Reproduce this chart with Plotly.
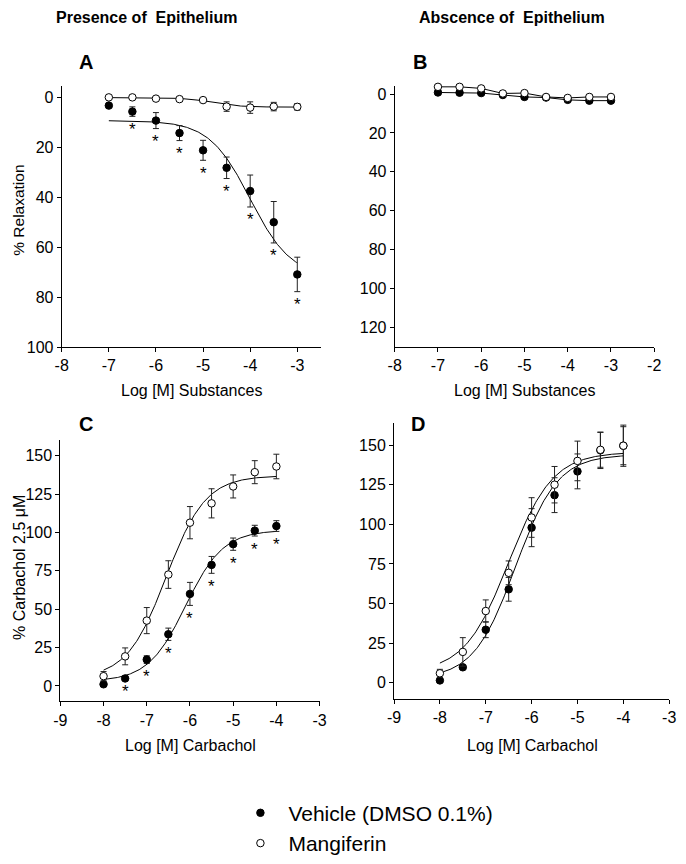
import numpy as np
import plotly.graph_objects as go

# concentrations (log M)
conc_sub = [-7, -6.5, -6, -5.5, -5, -4.5, -4, -3.5, -3]
conc_cch = [-8, -7.5, -7, -6.5, -6, -5.5, -5, -4.5, -4]

# A - presence of epithelium, relaxation
a_vehicle = [3.3, 5.7, 9.3, 14.3, 21.2, 28.2, 37.5, 50.0, 70.9]
a_vehicle_err = [0, 1.9, 3.2, 3.0, 4.0, 4.3, 6.4, 8.3, 6.9]
a_vehicle_sig = [0, 1, 1, 1, 1, 1, 1, 1, 1]
a_mangiferin = [0.0, 0.0, 0.5, 0.7, 1.1, 3.7, 4.1, 3.7, 3.8]
a_mangiferin_err = [0, 0, 0, 0, 0, 1.9, 2.3, 1.7, 1.3]

# B - absence of epithelium, relaxation
b_vehicle = [-0.8, -0.7, -0.5, 0.5, 1.5, 1.8, 3.0, 3.4, 3.4]
b_mangiferin = [-3.7, -3.7, -2.9, -0.3, -0.5, 1.5, 2.0, 1.5, 1.5]

# C - presence of epithelium, carbachol
c_vehicle = [1.1, 4.9, 17.2, 33.7, 60.0, 78.9, 92.4, 101.2, 104.2]
c_vehicle_err = [0, 0, 2.5, 4.0, 7.5, 5.5, 4.0, 3.5, 3.5]
c_vehicle_sig = [0, 1, 1, 1, 1, 1, 1, 1, 1]
c_mangiferin = [6.4, 19.3, 42.6, 72.6, 106.4, 119.0, 130.0, 139.3, 143.0]
c_mangiferin_err = [3.0, 5.5, 8.5, 9.0, 10.5, 9.5, 7.5, 7.5, 8.0]

# D - absence of epithelium, carbachol
d_vehicle = [1.5, 9.8, 33.5, 59.0, 97.9, 118.4, 133.4, 146.7, 149.6]
d_vehicle_err = [0, 0, 5.0, 7.5, 12.0, 11.0, 11.0, 11.5, 12.0]
d_mangiferin = [6.0, 19.5, 45.3, 69.4, 104.3, 125.0, 140.0, 147.0, 149.6]
d_mangiferin_err = [2.5, 9.0, 7.0, 7.5, 12.5, 11.5, 12.5, 11.0, 13.0]

# fitted sigmoid parameters (bottom, top, logEC50, hill)
fit_a_vehicle = (9.3, 72.0, -4.0, 1.0)
fit_a_mangiferin = (0.1, 3.9, -4.8, 1.5)
fit_c_vehicle = (3.0, 101.5, -6.1, 1.0)
fit_c_mangiferin = (5.0, 137.0, -6.55, 0.95)
fit_d_vehicle = (2.5, 144.0, -6.35, 0.95)
fit_d_mangiferin = (6.5, 145.5, -6.5, 0.9)

FONT = "Liberation Sans, Arial, sans-serif"

# the page body adds 8px around the figure, so work in page pixels minus that
OFF = 8
W, H = 686 - OFF, 864 - OFF


def sigmoid(x, p):
    bottom, top, ec50, hill = p
    return bottom + (top - bottom) / (1 + 10 ** ((ec50 - x) * hill))


fig = go.Figure()


def add_points(x, y, err, filled, xa, ya, name=None, legend=False, line=False):
    fig.add_trace(go.Scatter(
        x=x, y=y,
        mode="lines+markers" if line else "markers",
        line=dict(color="black", width=1),
        marker=dict(size=7.5, color="black" if filled else "white",
                    line=dict(color="black", width=1)),
        error_y=dict(type="data", array=err, color="#222222", thickness=1, width=3,
                     visible=err is not None),
        xaxis=xa, yaxis=ya, name=name, showlegend=legend, cliponaxis=False,
    ))


def add_curve(x0, x1, p, xa, ya):
    xs = np.linspace(x0, x1, 200)
    fig.add_trace(go.Scatter(x=xs, y=sigmoid(xs, p), mode="lines",
                             line=dict(color="black", width=1),
                             xaxis=xa, yaxis=ya, showlegend=False, hoverinfo="skip"))


def add_stars(x, y, err, sig, xa, ya, down):
    for xi, yi, ei, si in zip(x, y, err, sig):
        if si:
            fig.add_annotation(x=xi, y=yi + ei if down else yi - ei, xref=xa, yref=ya,
                               text="*", showarrow=False, yanchor="middle", yshift=-13,
                               font=dict(family=FONT, size=17, color="black"))


# A
add_curve(-7, -3, fit_a_vehicle, "x", "y")
add_curve(-7, -3, fit_a_mangiferin, "x", "y")
add_points(conc_sub, a_vehicle, a_vehicle_err, True, "x", "y", "Vehicle (DMSO 0.1%)", True)
add_points(conc_sub, a_mangiferin, a_mangiferin_err, False, "x", "y", "Mangiferin", True)
add_stars(conc_sub, a_vehicle, a_vehicle_err, a_vehicle_sig, "x", "y", True)

# B
add_points(conc_sub, b_vehicle, None, True, "x2", "y2", line=True)
add_points(conc_sub, b_mangiferin, None, False, "x2", "y2", line=True)

# C
add_curve(-8, -4, fit_c_vehicle, "x3", "y3")
add_curve(-8, -4, fit_c_mangiferin, "x3", "y3")
add_points(conc_cch, c_vehicle, c_vehicle_err, True, "x3", "y3")
add_points(conc_cch, c_mangiferin, c_mangiferin_err, False, "x3", "y3")
add_stars(conc_cch, c_vehicle, c_vehicle_err, c_vehicle_sig, "x3", "y3", False)

# D
add_curve(-8, -4, fit_d_vehicle, "x4", "y4")
add_curve(-8, -4, fit_d_mangiferin, "x4", "y4")
add_points(conc_cch, d_vehicle, d_vehicle_err, True, "x4", "y4")
add_points(conc_cch, d_mangiferin, d_mangiferin_err, False, "x4", "y4")


def ax(dom, rng, ticks, anchor):
    return dict(domain=dom, range=rng, anchor=anchor,
                tickmode="array", tickvals=ticks, ticktext=[str(t) for t in ticks],
                showline=True, linecolor="black", linewidth=1,
                ticks="outside", ticklen=4, tickcolor="black", tickwidth=1,
                showgrid=False, zeroline=False, fixedrange=True,
                tickfont=dict(family=FONT, size=16, color="black"))


def xd(left, right):
    return [(left - OFF) / W, (right - OFF) / W]


def yd(top, bottom):
    return [1 - (bottom - OFF) / H, 1 - (top - OFF) / H]


fig.update_layout(
    width=W, height=H,
    margin=dict(l=0, r=0, t=0, b=0),
    paper_bgcolor="white", plot_bgcolor="white",
    font=dict(family=FONT, color="black"),
    xaxis=ax(xd(55.7, 320.3), [-8, -2.5], list(range(-8, -2)), "y"),
    yaxis=ax(yd(86.7, 350.7), [100, -4.6], list(range(0, 101, 20)), "x"),
    xaxis2=ax(xd(395.7, 660.7), [-8, -2], list(range(-8, -1)), "y2"),
    yaxis2=ax(yd(86.7, 350.7), [130.2, -4.2], list(range(0, 121, 20)), "x2"),
    xaxis3=ax(xd(54.3, 319), [-9, -3], list(range(-9, -2)), "y3"),
    yaxis3=ax(yd(445, 708.7), [-10, 160], list(range(0, 151, 25)), "x3"),
    xaxis4=ax(xd(395, 676), [-9, -3], list(range(-9, -2)), "y4"),
    yaxis4=ax(yd(427.3, 706), [-10, 164], list(range(0, 151, 25)), "x4"),
    legend=dict(x=(230 - OFF) / W, y=1 - (801 - OFF) / H, xanchor="left", yanchor="top",
                itemwidth=46,
                font=dict(family=FONT, size=21, color="black"),
                bgcolor="rgba(0,0,0,0)", tracegroupgap=0),
)


def label(text, x, y, size, bold=False, angle=0, anchor="middle"):
    fig.add_annotation(x=(x - OFF) / W, y=1 - (y - OFF) / H, xref="paper", yref="paper",
                       text=f"<b>{text}</b>" if bold else text, showarrow=False,
                       textangle=angle, xanchor="center", yanchor=anchor, borderpad=0,
                       font=dict(family=FONT, size=size, color="black"))


# column titles sit as high as the figure allows
label("Presence of  Epithelium", 142, OFF, 16, True, anchor="top")
label("Abscence of  Epithelium", 515, OFF, 16, True, anchor="top")
label("A", 80, 63, 20, True)
label("B", 422, 63, 20, True)
label("C", 80, 428, 20, True)
label("D", 419, 428, 20, True)
label("% Relaxation", 12, 212, 15.5, angle=-90)
label("% Carbachol 2.5 μM", 12, 573, 16, angle=-90)
label("Log [M] Substances", 188, 395, 16)
label("Log [M] Substances", 528, 395, 16)
label("Log [M] Carbachol", 187, 753, 16)
label("Log [M] Carbachol", 536, 753, 16)

fig.write_html("out.html")
